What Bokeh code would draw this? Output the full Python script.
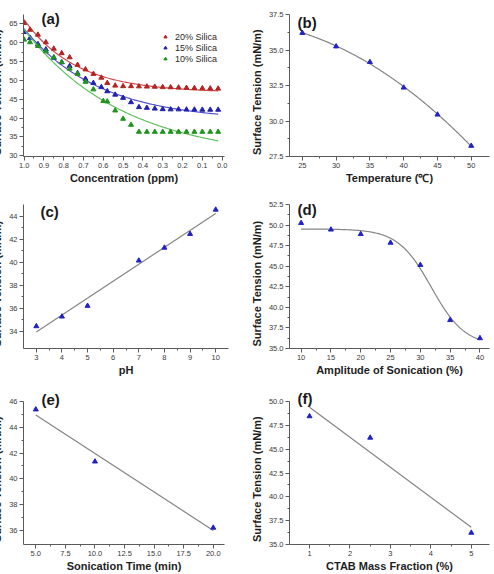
import numpy as np
from bokeh.plotting import figure
from bokeh.layouts import column, row
from bokeh.models import (FixedTicker, Label, Legend, LegendItem, Range1d,
                          NumeralTickFormatter)
from bokeh.embed import file_html
from bokeh.resources import INLINE

FONT = "Liberation Sans"
BLUE = "#2121c8"
FIT_GRAY = "#858585"

# ---- (a) surface tension vs. concentration, three silica loadings ----
conc_20 = [1.0, 0.97, 0.93, 0.89, 0.85, 0.81, 0.77, 0.73, 0.69, 0.65, 0.61, 0.58, 0.54,
           0.50, 0.46, 0.42, 0.38, 0.34, 0.30, 0.26, 0.22, 0.18, 0.14, 0.10, 0.06, 0.02]
st_20 = [65.2, 63.4, 62.1, 60.1, 58.4, 57.2, 56.1, 54.1, 52.9, 51.7, 50.7, 49.3, 48.6,
         48.45, 48.45, 48.4, 48.35, 48.3, 48.2, 48.15, 48.1, 48.0, 47.95, 47.9, 47.85, 47.8]
conc_15 = [1.0, 0.97, 0.93, 0.89, 0.85, 0.81, 0.77, 0.73, 0.69, 0.65, 0.61, 0.58, 0.54,
           0.50, 0.46, 0.42, 0.38, 0.34, 0.30, 0.26, 0.22, 0.18, 0.14, 0.10, 0.06, 0.02]
st_15 = [62.8, 61.2, 59.6, 58.2, 56.0, 54.8, 53.8, 51.9, 50.4, 49.3, 48.2, 47.1, 46.2,
         45.35, 44.2, 42.9, 42.7, 42.5, 42.35, 42.3, 42.3, 42.25, 42.25, 42.2, 42.2, 42.2]
conc_10 = [1.0, 0.97, 0.93, 0.89, 0.85, 0.81, 0.77, 0.73, 0.69, 0.65, 0.60, 0.58, 0.54,
           0.50, 0.46, 0.42, 0.38, 0.34, 0.30, 0.26, 0.22, 0.18, 0.14, 0.10, 0.06, 0.02]
st_10 = [60.8, 60.1, 59.1, 57.7, 56.1, 54.8, 53.1, 51.7, 49.6, 47.6, 44.5, 44.4, 42.0,
         39.8, 38.2, 36.35, 36.35, 36.35, 36.35, 36.35, 36.35, 36.35, 36.35, 36.35, 36.35, 36.35]
series_names = ["20% Silica", "15% Silica", "10% Silica"]
series_marker_colors = ["#b52323", "#2121b0", "#1f951f"]
series_fit_colors = ["#d04848", "#5252d0", "#5cc05c"]
a_xticks = [1.0, 0.9, 0.8, 0.7, 0.6, 0.5, 0.4, 0.3, 0.2, 0.1, 0.0]
a_yticks = [30, 35, 40, 45, 50, 55, 60, 65]

# ---- (b) temperature ----
temp = [25, 30, 35, 40, 45, 50]
st_temp = [36.2, 35.25, 34.15, 32.35, 30.45, 28.25]
b_xticks = [25, 30, 35, 40, 45, 50]
b_yticks = [27.5, 30.0, 32.5, 35.0, 37.5]

# ---- (c) pH ----
ph = [3, 4, 5, 7, 8, 9, 10]
st_ph = [34.43, 35.27, 36.2, 40.13, 41.25, 42.44, 44.55]
c_xticks = [3, 4, 5, 6, 7, 8, 9, 10]
c_yticks = [34, 36, 38, 40, 42, 44]

# ---- (d) amplitude of sonication ----
amp = [10, 15, 20, 25, 30, 35, 40]
st_amp = [50.25, 49.45, 48.9, 47.85, 45.15, 38.45, 36.25]
d_xticks = [10, 15, 20, 25, 30, 35, 40]
d_yticks = [35.0, 37.5, 40.0, 42.5, 45.0, 47.5, 50.0, 52.5]

# ---- (e) sonication time ----
son_time = [5, 10, 20]
st_time = [45.38, 41.34, 36.2]
e_xticks = [5.0, 7.5, 10.0, 12.5, 15.0, 17.5, 20.0]
e_yticks = [36, 38, 40, 42, 44, 46]

# ---- (f) CTAB mass fraction ----
ctab = [1, 2.5, 5]
st_ctab = [48.45, 46.2, 36.23]
f_xticks = [1, 2, 3, 4, 5]
f_yticks = [35.0, 37.5, 40.0, 42.5, 45.0, 47.5, 50.0]

Y_TITLE = "Surface Tension (mN/m)"


def midpoints(ticks):
    t = sorted(ticks)
    return [(a + b) / 2 for a, b in zip(t[:-1], t[1:])]


def fit_exp(x, y):
    """Least-squares fit of y = y0 + B*exp(k*x) (grid over k, linear in y0, B)."""
    x = np.asarray(x, float)
    y = np.asarray(y, float)
    best = None
    for k in np.linspace(0.2, 15, 1500):
        A = np.column_stack([np.ones_like(x), np.exp(k * x)])
        coef = np.linalg.lstsq(A, y, rcond=None)[0]
        err = float(np.sum((A @ coef - y) ** 2))
        if best is None or err < best[0]:
            best = (err, k, coef)
    _, k, (y0, b) = best
    return lambda t: y0 + b * np.exp(k * t)


def fit_boltzmann(x, y):
    """Least-squares Boltzmann sigmoid y = A2 + (A1 - A2)/(1 + exp((x - x0)/dx))."""
    x = np.asarray(x, float)
    y = np.asarray(y, float)
    best = None
    for x0 in np.arange(24.0, 38.0, 0.05):
        for dx in np.arange(0.5, 8.0, 0.05):
            s = 1.0 / (1.0 + np.exp((x - x0) / dx))
            A = np.column_stack([np.ones_like(x), s])
            coef = np.linalg.lstsq(A, y, rcond=None)[0]
            err = float(np.sum((A @ coef - y) ** 2))
            if best is None or err < best[0]:
                best = (err, x0, dx, coef)
    _, x0, dx, (a2, da) = best
    return lambda t: a2 + da / (1.0 + np.exp((t - x0) / dx))


def make_panel(x_rng, y_rng, x_ticks, y_ticks, x_title, fw, fh, head, bl, br, bb,
               x_fmt=None, y_fmt=None, title_pad=0):
    """Axes box of fw x fh px; `head` px of free plot area above the y axis top
    holds the panel tag, with the y axis itself bounded to y_rng.
    `title_pad` trailing no-break spaces push the vertical title down a little."""
    y0, y1 = y_rng
    y_top = y1 + head * (y1 - y0) / fh
    p = figure(output_backend="svg", toolbar_location=None,
               frame_width=fw, frame_height=fh + head,
               x_range=Range1d(*x_rng), y_range=Range1d(y0, y_top),
               min_border_left=bl, min_border_right=br,
               min_border_top=0, min_border_bottom=bb,
               background_fill_color="white", border_fill_color="white")
    p.outline_line_color = None
    p.grid.visible = False
    p.yaxis[0].bounds = (y0, y1)
    y_title = Y_TITLE + "\u00a0" * title_pad
    for ax, ticks, title, fmt, stand in ((p.xaxis[0], x_ticks, x_title, x_fmt, 1),
                                         (p.yaxis[0], y_ticks, y_title, y_fmt, 3)):
        ax.ticker = FixedTicker(ticks=ticks, minor_ticks=midpoints(ticks))
        if fmt:
            ax.formatter = NumeralTickFormatter(format=fmt)
        ax.axis_label = title
        ax.axis_label_text_font = FONT
        ax.axis_label_text_font_style = "bold"
        ax.axis_label_text_font_size = "11px"
        ax.axis_label_text_color = "#1e1e1e"
        ax.axis_label_standoff = stand
        ax.major_label_text_font = FONT
        ax.major_label_text_font_size = "7.5px"
        ax.major_label_text_color = "#3a3a3a"
        ax.major_label_standoff = 2
        ax.axis_line_color = "#5a5a5a"
        ax.major_tick_line_color = "#5a5a5a"
        ax.minor_tick_line_color = "#5a5a5a"
        ax.major_tick_out = 4
        ax.major_tick_in = 0
        ax.minor_tick_out = 2
        ax.minor_tick_in = 0
    return p


def panel_tag(p, text, dx, dy_above, fh):
    p.add_layout(Label(x=dx, y=fh + dy_above, x_units="screen", y_units="screen",
                       text=text, text_font=FONT, text_font_style="bold",
                       text_font_size="15px", text_color="#1a1a1a",
                       text_baseline="top"))


def blue_points(p, x, y):
    p.scatter(x, y, marker="triangle", size=5, fill_color=BLUE, line_color=BLUE)


# ---------------- row 1 ----------------
pa = make_panel((1.003, -0.012), (29.81, 67.47), a_xticks, a_yticks,
                "Concentration (ppm)", 201, 142, 14, 40, 23, 38, x_fmt="0.0", title_pad=9)
legend_items = []
for xs, ys, name, mc, fc in zip((conc_20, conc_15, conc_10), (st_20, st_15, st_10),
                                series_names, series_marker_colors, series_fit_colors):
    curve = fit_exp(xs, ys)
    xx = np.linspace(min(xs), max(xs), 200)
    pa.line(xx, curve(xx), line_color=fc, line_width=1.2)
    r = pa.scatter(xs, ys, marker="triangle", size=5, fill_color=mc, line_color=mc)
    legend_items.append(LegendItem(label=name, renderers=[r]))
legend = Legend(items=legend_items, location=(138, 92), border_line_color=None,
                background_fill_alpha=0, padding=3, margin=0, spacing=0,
                glyph_width=8, glyph_height=11, label_height=11, label_standoff=6,
                label_text_font=FONT, label_text_font_size="9px",
                label_text_color="#2a2a2a")
pa.add_layout(legend)
panel_tag(pa, "(a)", 18, 5, 142)

pb = make_panel((23.1, 52.7), (27.5, 37.5), b_xticks, b_yticks,
                "Temperature (\u2103)", 200, 142, 14, 40, 7, 38, y_fmt="0.0", title_pad=9)
coef_b = np.polyfit(temp, st_temp, 2)
xb = np.linspace(min(temp), max(temp), 200)
pb.line(xb, np.polyval(coef_b, xb), line_color=FIT_GRAY, line_width=1.2)
blue_points(pb, temp, st_temp)
panel_tag(pb, "(b)", 8, 1, 142)

# ---------------- row 2 ----------------
pc = make_panel((2.5, 10.5), (32.5, 45.0), c_xticks, c_yticks,
                "pH", 205, 144, 10, 40, 19, 38, title_pad=8)
coef_c = np.polyfit(ph, st_ph, 1)
xc = np.array([min(ph), max(ph)], float)
pc.line(xc, np.polyval(coef_c, xc), line_color=FIT_GRAY, line_width=1.2)
blue_points(pc, ph, st_ph)
panel_tag(pc, "(c)", 17, 2, 144)

pd_ = make_panel((8.05, 41.6), (35.0, 52.5), d_xticks, d_yticks,
                 "Amplitude of Sonication (%)", 200, 144, 10, 40, 7, 38, y_fmt="0.0",
                 title_pad=8)
sig = fit_boltzmann(amp, st_amp)
xd = np.linspace(min(amp), max(amp), 200)
pd_.line(xd, sig(xd), line_color=FIT_GRAY, line_width=1.2)
blue_points(pd_, amp, st_amp)
panel_tag(pd_, "(d)", 8, 4, 144)

# ---------------- row 3 ----------------
pe = make_panel((3.96, 20.95), (34.9, 46.0), e_xticks, e_yticks,
                "Sonication Time (min)", 201, 143, 15, 40, 23, 30, x_fmt="0.0", title_pad=9)
coef_e = np.polyfit(son_time, st_time, 1)
xe = np.array([min(son_time), max(son_time)], float)
pe.line(xe, np.polyval(coef_e, xe), line_color=FIT_GRAY, line_width=1.2)
blue_points(pe, son_time, st_time)
panel_tag(pe, "(e)", 18, 11, 143)

pf = make_panel((0.505, 5.45), (35.0, 50.0), f_xticks, f_yticks,
                "CTAB Mass Fraction (%)", 200, 143, 15, 40, 7, 30, y_fmt="0.0", title_pad=9)
coef_f = np.polyfit(ctab, st_ctab, 1)
xf = np.array([min(ctab), max(ctab)], float)
pf.line(xf, np.polyval(coef_f, xf), line_color=FIT_GRAY, line_width=1.2)
blue_points(pf, ctab, st_ctab)
panel_tag(pf, "(f)", 8, 12, 143)

layout = column(row(pa, pb), row(pc, pd_), row(pe, pf), margin=(0, 0, 0, -17))

open("out.html", "w").write(file_html(layout, INLINE))
